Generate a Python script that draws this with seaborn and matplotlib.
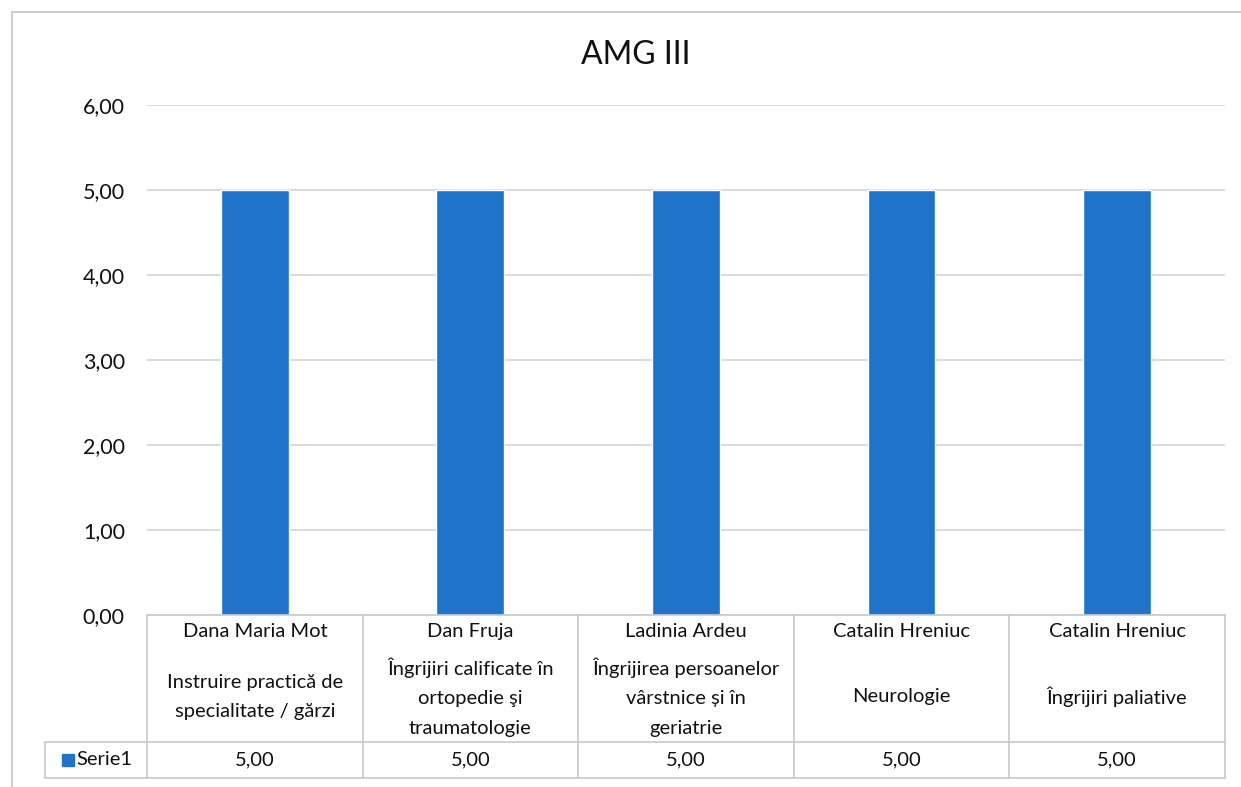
import matplotlib.pyplot as plt
import matplotlib.transforms as mtransforms
from matplotlib.patches import Rectangle
import pandas as pd
import seaborn as sns

TITLE = "AMG III"
SERIES_NAME = "Serie1"
teachers = ["Dana Maria Mot", "Dan Fruja", "Ladinia Ardeu", "Catalin Hreniuc", "Catalin Hreniuc"]
subjects = [
    "Instruire practică de\nspecialitate / gărzi",
    "Îngrijiri calificate în\nortopedie şi\ntraumatologie",
    "Îngrijirea persoanelor\nvârstnice și în\ngeriatrie",
    "Neurologie",
    "Îngrijiri paliative",
]
values = [5.00, 5.00, 5.00, 5.00, 5.00]
y_ticks = [0, 1, 2, 3, 4, 5, 6]

BAR_COLOR = "#1f73c9"
GRID_COLOR = "#d4d4d8"
TABLE_COLOR = "#c8c8cc"
TXT = 14.5

sns.set_theme(style="white")
plt.rcParams["font.family"] = ["Lato", "DejaVu Sans"]


def fmt(v):
    return f"{v:.2f}".replace(".", ",")


df = pd.DataFrame({"slot": list(range(len(values))), "value": values})

fig = plt.figure(figsize=(12.41, 7.87), dpi=100)
ax = fig.add_axes([0.1185, 0.2186, 0.8685, 0.648])

sns.barplot(data=df, x="slot", y="value", color=BAR_COLOR, width=0.315,
            saturation=1, ax=ax, zorder=3)
ax.set_xlim(-0.5, len(values) - 0.5)
ax.set_ylim(0, 6)
ax.set_yticks(y_ticks)
ax.set_yticklabels([fmt(t) for t in y_ticks], fontsize=15.5, color="#111111")
ax.tick_params(axis="y", length=0, pad=16)
ax.set_xticks([])
ax.set_xlabel("")
ax.set_ylabel("")
for side in ["left", "right", "top", "bottom"]:
    ax.spines[side].set_visible(False)
ax.yaxis.grid(True, color=GRID_COLOR, linewidth=1.2, zorder=0)
ax.set_axisbelow(True)

# outer chart border
fig.patches.append(Rectangle((12 / 1241, -0.01), 1.0, 1 - 12 / 787 + 0.01,
                             transform=fig.transFigure, fill=False,
                             edgecolor="#c4c4c8", linewidth=1.2))

fig.text(636 / 1241, 1 - 55 / 787, TITLE, ha="center", va="center", fontsize=23, color="#111111")

# data table under the axis
px = 1 / 510  # one pixel in axes-fraction height (plot area is 510 px tall)
trans = mtransforms.blended_transform_factory(ax.transData, ax.transAxes)
label_bottom = -127 * px
value_bottom = -163 * px
n = len(values)
line_kw = dict(color=TABLE_COLOR, linewidth=1.2, clip_on=False, zorder=4)

for y in [0, label_bottom, value_bottom]:
    ax.plot([-0.5, n - 0.5], [y, y], transform=trans, **line_kw)
for i in range(n + 1):
    ax.plot([i - 0.5, i - 0.5], [0, value_bottom], transform=trans, **line_kw)

for i, (name, subj, v) in enumerate(zip(teachers, subjects, values)):
    ax.text(i, -17 * px, name, transform=trans, ha="center", va="center",
            fontsize=TXT, color="#111111", clip_on=False)
    ax.text(i, -82 * px, subj, transform=trans, ha="center", va="center",
            fontsize=TXT, color="#111111", linespacing=1.9, clip_on=False)
    ax.text(i, (label_bottom + value_bottom) / 2, fmt(v), transform=trans,
            ha="center", va="center", fontsize=TXT, color="#111111", clip_on=False)

# series label cell to the left of the value row
axes_to_fig = ax.transAxes
left_cell = -102 / 1078
for y in [label_bottom, value_bottom]:
    ax.plot([left_cell, 0], [y, y], transform=axes_to_fig, **line_kw)
ax.plot([left_cell, left_cell], [label_bottom, value_bottom], transform=axes_to_fig, **line_kw)
ax.add_patch(Rectangle((left_cell + 17 / 1078, (label_bottom + value_bottom) / 2 - 6 * px),
                       12 / 1078, 12 * px, transform=axes_to_fig, color=BAR_COLOR,
                       clip_on=False, zorder=5))
ax.text(left_cell + 31 / 1078, (label_bottom + value_bottom) / 2, SERIES_NAME,
        transform=axes_to_fig, ha="left", va="center", fontsize=TXT, color="#111111",
        clip_on=False)

fig.savefig("out.png", dpi=100)
